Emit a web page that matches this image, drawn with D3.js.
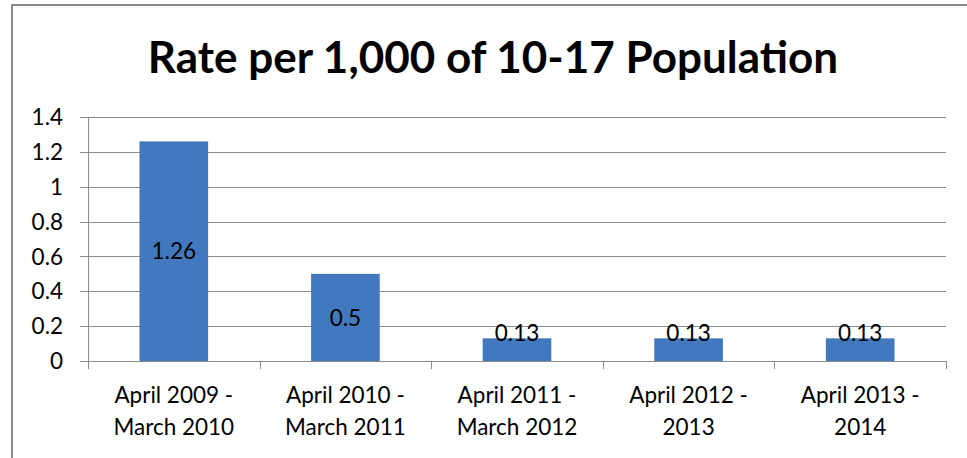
<!DOCTYPE html>
<html><head><meta charset="utf-8">
<script src="https://cdn.jsdelivr.net/npm/d3@7"></script>
<style>body{margin:0;background:#fff}svg{display:block}</style>
</head><body><svg id="c" width="967" height="458"></svg>
<script>
const title = "Rate per 1,000 of 10-17 Population";
const categories = [
  ["April 2009 -", "March 2010"],
  ["April 2010 -", "March 2011"],
  ["April 2011 -", "March 2012"],
  ["April 2012 -", "2013"],
  ["April 2013 -", "2014"]
];
const values = [1.26, 0.5, 0.13, 0.13, 0.13];
const labels = ["1.26", "0.5", "0.13", "0.13", "0.13"];
const yTicks = [0, 0.2, 0.4, 0.6, 0.8, 1, 1.2, 1.4];
const yTickLabels = ["0", "0.2", "0.4", "0.6", "0.8", "1", "1.2", "1.4"];

const svg = d3.select("#c");
const font = "Lato, 'Open Sans', sans-serif";
const L = 88, R = 946, T = 117, B = 361;
const fs = 22.5;

svg.append("rect").attr("x", 12).attr("y", 5).attr("width", 990).attr("height", 480)
  .attr("fill", "#fff").attr("stroke", "#8a8a8a").attr("stroke-width", 2);

svg.append("text").attr("x", 493).attr("y", 73).attr("text-anchor", "middle")
  .attr("font-family", font).attr("font-weight", "bold").attr("font-size", 44)
  .attr("fill", "#000").text(title);

const y = d3.scaleLinear().domain([0, 1.4]).range([B, T]);
const idx = categories.map((d, i) => i);
const x = d3.scaleBand().domain(idx).range([L, R]).paddingInner(0.6).paddingOuter(0.3);
const step = x.step();

// gridlines
svg.append("g").selectAll("line").data(yTicks).join("line")
  .attr("x1", L - 8).attr("x2", R).attr("y1", d => Math.round(y(d)) + 0.5).attr("y2", d => Math.round(y(d)) + 0.5)
  .attr("stroke", "#8c8c8c").attr("stroke-width", 1);

// y axis line
svg.append("line").attr("x1", L + 0.5).attr("x2", L + 0.5).attr("y1", T).attr("y2", B + 1)
  .attr("stroke", "#8c8c8c");

// y tick labels
svg.append("g").selectAll("text").data(yTicks).join("text")
  .attr("x", 63).attr("y", d => y(d)).attr("dy", "0.36em").attr("text-anchor", "end")
  .attr("font-family", font).attr("font-size", fs).attr("fill", "#000")
  .text((d, i) => yTickLabels[i]);

// x category boundary ticks
const bounds = d3.range(categories.length + 1).map(i => L + i * step);
svg.append("g").selectAll("line").data(bounds).join("line")
  .attr("x1", d => Math.round(d) + 0.5).attr("x2", d => Math.round(d) + 0.5)
  .attr("y1", B).attr("y2", B + 8).attr("stroke", "#8c8c8c");

// bars
svg.append("g").selectAll("rect").data(values).join("rect")
  .attr("x", (d, i) => x(i)).attr("width", x.bandwidth())
  .attr("y", d => y(d)).attr("height", d => B - y(d))
  .attr("fill", "#4279be");

// data labels
svg.append("g").selectAll("text").data(values).join("text")
  .attr("x", (d, i) => x(i) + x.bandwidth() / 2)
  .attr("y", d => Math.min((y(d) + B) / 2, B - 28))
  .attr("dy", "0.36em").attr("text-anchor", "middle")
  .attr("font-family", font).attr("font-size", fs).attr("fill", "#000")
  .text((d, i) => labels[i]);

// x labels
const xl = svg.append("g").selectAll("text").data(categories).join("text")
  .attr("x", (d, i) => x(i) + x.bandwidth() / 2).attr("y", 403)
  .attr("text-anchor", "middle").attr("font-family", font).attr("font-size", fs).attr("fill", "#000");
xl.selectAll("tspan").data(d => d).join("tspan")
  .attr("x", function () { return d3.select(this.parentNode).attr("x"); })
  .attr("dy", (d, j) => j === 0 ? 0 : 32).text(d => d);
</script></body></html>
